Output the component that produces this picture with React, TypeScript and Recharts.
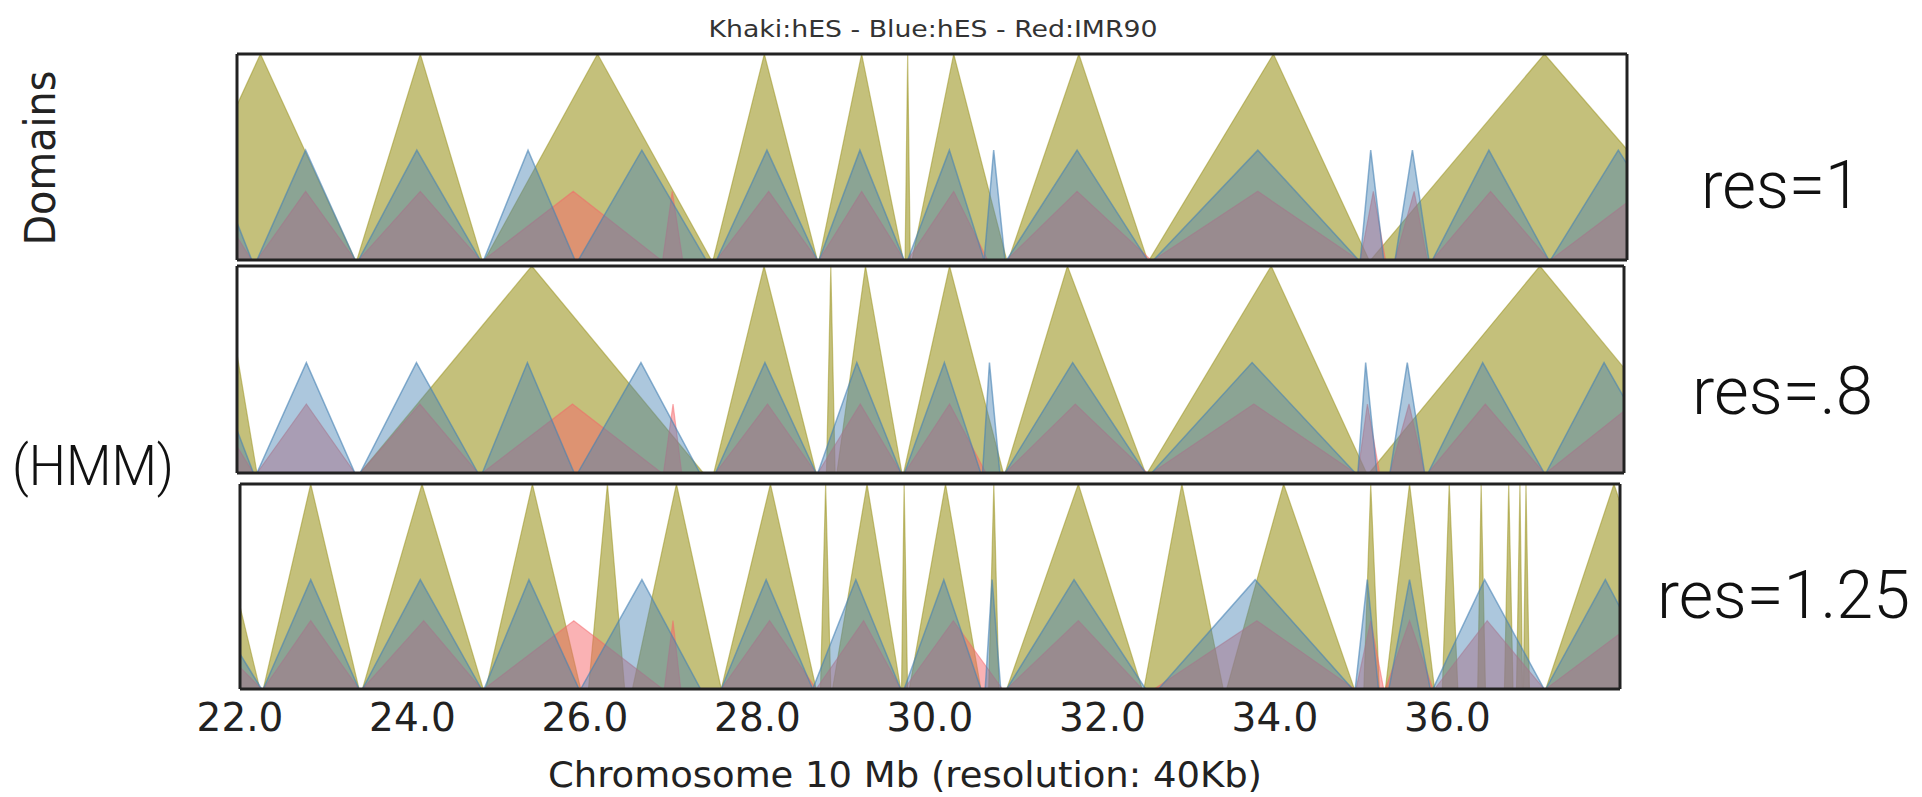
import React from 'react';
import { AreaChart, Area, XAxis, YAxis } from 'recharts';

type Tri = [number, number, number]; // [domain start, peak, domain end] in Mb

// ---------- axis values ----------
const xLabelTicks = [22, 24, 26, 28, 30, 32, 34, 36];
const xInnerTicks = [24, 26, 28, 30, 32, 34, 36];
const yInnerTicks = [1];
const xDomain: [number, number] = [22, 38];
const yDomain: [number, number] = [0, 1.5];

// peak heights of each track
const khakiHeight = 1.5;
const blueHeight = 0.8;
const redHeight = 0.5;

// ---------- res = 1 ----------
const khakiRes1: Tri[] = [
  [21.18, 22.27, 23.36], [23.38, 24.11, 24.82], [24.85, 26.15, 27.46], [27.48, 28.07, 28.68],
  [28.7, 29.19, 29.67], [29.69, 29.72, 29.75], [29.77, 30.25, 30.86], [30.88, 31.69, 32.48],
  [32.5, 33.93, 35.03], [35.05, 37.05, 39.1],
];
const blueRes1: Tri[] = [
  [21.17, 21.67, 22.17], [22.23, 22.79, 23.36], [23.4, 24.07, 24.8], [24.84, 25.35, 25.89],
  [25.93, 26.66, 27.4], [27.52, 28.1, 28.68], [28.7, 29.17, 29.68], [29.72, 30.2, 30.6],
  [30.6, 30.71, 30.84], [30.86, 31.67, 32.48], [32.55, 33.75, 34.91], [34.93, 35.05, 35.2],
  [35.33, 35.53, 35.72], [35.76, 36.41, 37.1], [37.12, 37.9, 38.7],
];
const redRes1: Tri[] = [
  [21.17, 21.67, 22.17], [22.23, 22.79, 23.36], [23.4, 24.11, 24.8], [24.84, 25.87, 26.88],
  [26.9, 27.01, 27.13], [27.52, 28.12, 28.68], [28.7, 29.19, 29.68], [29.72, 30.25, 30.64],
  [30.86, 31.67, 32.52], [32.55, 33.75, 34.91], [34.93, 35.08, 35.22], [35.33, 35.55, 35.7],
  [35.76, 36.43, 37.1], [37.12, 38.17, 39.2],
];

// ---------- res = .8 ----------
const khakiRes08: Tri[] = [
  [21.43, 21.83, 22.23], [23.42, 25.4, 27.38], [27.5, 28.08, 28.68], [28.8, 28.85, 28.9],
  [28.92, 29.25, 29.67], [29.69, 30.22, 30.84], [30.86, 31.58, 32.48], [32.5, 33.93, 35.03],
  [35.06, 37.03, 39.0],
];
const blueRes08: Tri[] = [
  [21.2, 21.7, 22.19], [22.23, 22.8, 23.36], [23.42, 24.07, 24.78], [24.83, 25.35, 25.89],
  [25.93, 26.66, 27.34], [27.52, 28.09, 28.68], [28.7, 29.15, 29.66], [29.7, 30.16, 30.58],
  [30.6, 30.68, 30.8], [30.86, 31.64, 32.48], [32.55, 33.71, 34.9], [34.93, 35.02, 35.15],
  [35.3, 35.5, 35.7], [35.74, 36.37, 37.08], [37.1, 37.77, 38.5],
];
const redRes08: Tri[] = [
  [21.2, 21.7, 22.19], [22.23, 22.8, 23.36], [23.42, 24.11, 24.78], [24.83, 25.87, 26.9],
  [26.92, 27.03, 27.13], [27.52, 28.12, 28.68], [28.7, 29.19, 29.66], [29.7, 30.22, 30.64],
  [30.86, 31.67, 32.5], [32.55, 33.73, 34.9], [34.93, 35.04, 35.18], [35.3, 35.52, 35.7],
  [35.74, 36.4, 37.08], [37.1, 38.1, 39.1],
];

// ---------- res = 1.25 ----------
const khakiRes125: Tri[] = [
  [21.08, 21.66, 22.23], [22.27, 22.82, 23.38], [23.42, 24.11, 24.82], [24.85, 25.39, 25.95],
  [26.04, 26.26, 26.46], [26.55, 27.06, 27.58], [27.58, 28.15, 28.68], [28.73, 28.79, 28.85],
  [28.87, 29.27, 29.66], [29.67, 29.7, 29.74], [29.76, 30.18, 30.59], [30.68, 30.74, 30.8],
  [30.89, 31.72, 32.46], [32.48, 32.92, 33.4], [33.44, 34.1, 34.92], [35.03, 35.11, 35.21],
  [35.28, 35.56, 35.85], [35.94, 36.02, 36.12], [36.35, 36.39, 36.44], [36.66, 36.71, 36.76],
  [36.8, 36.84, 36.87], [36.88, 36.91, 36.95], [37.14, 37.93, 38.72],
];
const blueRes125: Tri[] = [
  [20.69, 21.47, 22.25], [22.27, 22.82, 23.38], [23.42, 24.09, 24.8], [24.83, 25.35, 25.93],
  [25.95, 26.66, 27.34], [27.58, 28.1, 28.64], [28.64, 29.14, 29.66], [29.7, 30.16, 30.59],
  [30.64, 30.72, 30.82], [30.89, 31.67, 32.5], [32.65, 33.77, 34.9], [34.93, 35.07, 35.2],
  [35.32, 35.56, 35.8], [35.83, 36.43, 37.12], [37.14, 37.83, 38.5],
];
const redRes125: Tri[] = [
  [20.69, 21.47, 22.25], [22.27, 22.82, 23.38], [23.42, 24.13, 24.8], [24.83, 25.87, 26.9],
  [26.92, 27.02, 27.11], [27.58, 28.14, 28.68], [28.68, 29.23, 29.66], [29.7, 30.27, 30.84],
  [30.89, 31.72, 32.46], [32.6, 33.79, 34.92], [34.94, 35.11, 35.26], [35.28, 35.56, 35.83],
  [35.85, 36.46, 37.12], [37.14, 38.2, 39.26],
];

// ---------- styling ----------
const KHAKI = '#9a921c';
const BLUE = '#4682b4';
const RED = '#f56569';
const FRAME = '#222222';
const M = 4;
const SIDE = 60; // room for the tick labels that hang past the plot edges

type Row = { x: number; k?: number; r?: number; b?: number };

function buildRows(k: Tri[], r: Tri[], b: Tri[]): Row[] {
  const map = new Map<number, Row>();
  const put = (x: number, key: 'k' | 'r' | 'b', v: number) => {
    const row = map.get(x) || { x };
    row[key] = v;
    map.set(x, row);
  };
  const add = (tris: Tri[], key: 'k' | 'r' | 'b', h: number) => {
    tris.forEach(([s, p, e]) => {
      put(s, key, 0);
      put(p, key, h);
      put(e, key, 0);
    });
  };
  add(k, 'k', khakiHeight);
  add(r, 'r', redHeight);
  add(b, 'b', blueHeight);
  return Array.from(map.values()).sort((a, c) => a.x - c.x);
}

type Rect = { left: number; top: number; width: number; height: number };

function Panel({ rect, k, r, b, labels }: { rect: Rect; k: Tri[]; r: Tri[]; b: Tri[]; labels?: boolean }) {
  const data = buildRows(k, r, b);
  const labelH = 100;
  const side = labels ? SIDE : M;
  const w = rect.width + 2 * side;
  const h = rect.height + M + (labels ? labelH : M);
  return (
    <div style={{ position: 'absolute', left: rect.left - side, top: rect.top - M, width: w, height: h }}>
      <AreaChart width={w} height={h} data={data} margin={{ top: M, right: side, bottom: labels ? 0 : M, left: side }}>
        <XAxis xAxisId="b" dataKey="x" type="number" domain={xDomain} allowDataOverflow orientation="bottom" mirror
          ticks={xInnerTicks} tick={false} tickSize={10} stroke={FRAME} axisLine={{ stroke: FRAME, strokeWidth: 3 }}
          tickLine={{ stroke: FRAME, strokeWidth: 2 }} />
        <XAxis xAxisId="t" dataKey="x" type="number" domain={xDomain} allowDataOverflow orientation="top" mirror
          ticks={xInnerTicks} tick={false} tickSize={10} axisLine={{ stroke: FRAME, strokeWidth: 3 }}
          tickLine={{ stroke: FRAME, strokeWidth: 2 }} />
        {labels && (
          <XAxis xAxisId="lab" dataKey="x" type="number" domain={xDomain} allowDataOverflow orientation="bottom"
            height={labelH} ticks={xLabelTicks} axisLine={false} tickLine={false} tickSize={6} tickMargin={8}
            tickFormatter={(v: number) => v.toFixed(1)}
            tick={{ fontSize: 39, fill: '#222', fontFamily: 'DejaVu Sans' }} interval={0} />
        )}
        <YAxis yAxisId="l" type="number" domain={yDomain} allowDataOverflow orientation="left" mirror
          ticks={yInnerTicks} tick={false} tickSize={10} axisLine={{ stroke: FRAME, strokeWidth: 3 }}
          tickLine={{ stroke: FRAME, strokeWidth: 2 }} />
        <YAxis yAxisId="r" type="number" domain={yDomain} allowDataOverflow orientation="right" mirror
          ticks={yInnerTicks} tick={false} tickSize={10} axisLine={{ stroke: FRAME, strokeWidth: 3 }}
          tickLine={{ stroke: FRAME, strokeWidth: 2 }} />
        <Area xAxisId="b" yAxisId="l" type="linear" dataKey="k" connectNulls isAnimationActive={false}
          fill={KHAKI} fillOpacity={0.58} stroke={KHAKI} strokeOpacity={0.5} strokeWidth={1.2} dot={false} activeDot={false} />
        <Area xAxisId="b" yAxisId="l" type="linear" dataKey="r" connectNulls isAnimationActive={false}
          fill={RED} fillOpacity={0.5} stroke={RED} strokeOpacity={0.5} strokeWidth={1.2} dot={false} activeDot={false} />
        <Area xAxisId="b" yAxisId="l" type="linear" dataKey="b" connectNulls isAnimationActive={false}
          fill={BLUE} fillOpacity={0.45} stroke={BLUE} strokeOpacity={0.6} strokeWidth={1.5} dot={false} activeDot={false} />
      </AreaChart>
    </div>
  );
}

const panel1: Rect = { left: 237, top: 54, width: 1390, height: 206 };
const panel2: Rect = { left: 237, top: 266, width: 1387, height: 207 };
const panel3: Rect = { left: 240, top: 484, width: 1380, height: 205 };

export default function App() {
  const light = { fontFamily: 'Roboto, "Noto Sans", sans-serif', fontWeight: 300, fill: '#111' } as const;
  return (
    <div style={{ position: 'absolute', left: 0, top: 0, width: 1922, height: 797, background: '#fff', overflow: 'hidden' }}>
      <Panel rect={panel1} k={khakiRes1} r={redRes1} b={blueRes1} />
      <Panel rect={panel2} k={khakiRes08} r={redRes08} b={blueRes08} />
      <Panel rect={panel3} k={khakiRes125} r={redRes125} b={blueRes125} labels />
      <svg width={1922} height={797} style={{ position: 'absolute', left: 0, top: 0, pointerEvents: 'none' }}>
        <text x={933} y={37} textAnchor="middle" fontSize={23} fontFamily="DejaVu Sans" fill="#333"
          textLength={449} lengthAdjust="spacingAndGlyphs">Khaki:hES - Blue:hES - Red:IMR90</text>
        <text transform="translate(55,158) rotate(-90)" textAnchor="middle" fontSize={43} fontFamily="DejaVu Sans"
          fill="#222" textLength={175} lengthAdjust="spacingAndGlyphs">Domains</text>
        <text x={12} y={485} fontSize={56} {...light} textLength={162} lengthAdjust="spacingAndGlyphs">(HMM)</text>
        <text x={1701} y={208} fontSize={66} {...light} textLength={160} lengthAdjust="spacingAndGlyphs">res=1</text>
        <text x={1692} y={414} fontSize={66} {...light} textLength={181} lengthAdjust="spacingAndGlyphs">res=.8</text>
        <text x={1657} y={618} fontSize={66} {...light} textLength={253} lengthAdjust="spacingAndGlyphs">res=1.25</text>
        <text x={905} y={787} textAnchor="middle" fontSize={36} fontFamily="DejaVu Sans" fill="#222"
          textLength={714} lengthAdjust="spacingAndGlyphs">Chromosome 10 Mb (resolution: 40Kb)</text>
      </svg>
    </div>
  );
}
